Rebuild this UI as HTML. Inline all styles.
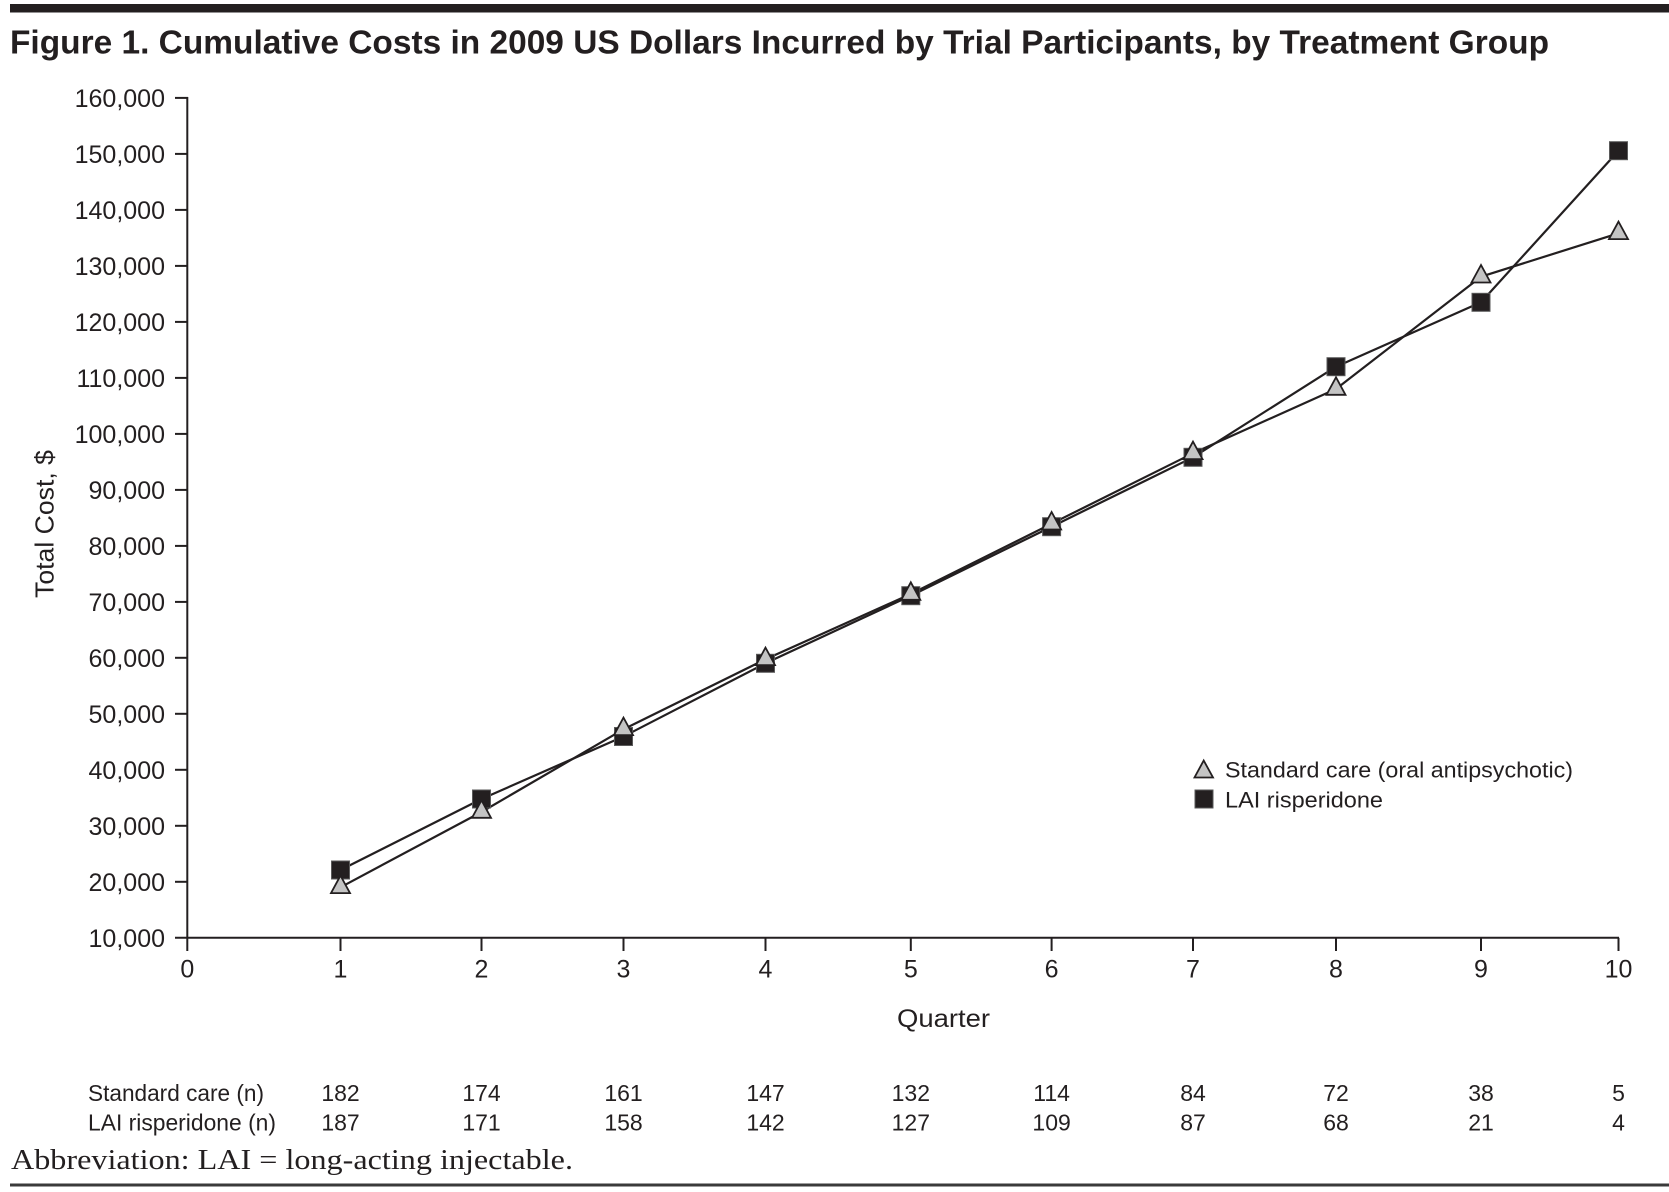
<!DOCTYPE html>
<html><head><meta charset="utf-8"><style>
html,body{margin:0;padding:0;background:#fff;}
svg{display:block;}
text{fill:#231f20;font-family:"Liberation Sans",sans-serif;}
</style></head><body>
<svg width="1669" height="1192" viewBox="0 0 1669 1192" xmlns="http://www.w3.org/2000/svg">
<rect x="0" y="0" width="1669" height="1192" fill="#fff"/>
<!-- top bar -->
<rect x="10" y="4" width="1659" height="8.5" fill="#231f20"/>
<!-- title -->
<text x="10" y="53.3" font-size="33" font-weight="bold" textLength="1539" lengthAdjust="spacingAndGlyphs">Figure 1. Cumulative Costs in 2009 US Dollars Incurred by Trial Participants, by Treatment Group</text>

<!-- axes -->
<g stroke="#231f20" stroke-width="2" fill="none">
<line x1="187.3" y1="97" x2="187.3" y2="951"/>
<line x1="175" y1="937.8" x2="1619" y2="937.8"/>
<!-- y ticks -->
<line x1="175" y1="97.9" x2="188" y2="97.9"/>
<line x1="175" y1="153.9" x2="187" y2="153.9"/>
<line x1="175" y1="209.9" x2="187" y2="209.9"/>
<line x1="175" y1="265.9" x2="187" y2="265.9"/>
<line x1="175" y1="321.9" x2="187" y2="321.9"/>
<line x1="175" y1="377.9" x2="187" y2="377.9"/>
<line x1="175" y1="433.9" x2="187" y2="433.9"/>
<line x1="175" y1="489.9" x2="187" y2="489.9"/>
<line x1="175" y1="545.9" x2="187" y2="545.9"/>
<line x1="175" y1="601.9" x2="187" y2="601.9"/>
<line x1="175" y1="657.8" x2="187" y2="657.8"/>
<line x1="175" y1="713.8" x2="187" y2="713.8"/>
<line x1="175" y1="769.8" x2="187" y2="769.8"/>
<line x1="175" y1="825.8" x2="187" y2="825.8"/>
<line x1="175" y1="881.8" x2="187" y2="881.8"/>
<!-- x ticks -->
<line x1="340.5" y1="937.8" x2="340.5" y2="951"/>
<line x1="481.5" y1="937.8" x2="481.5" y2="951"/>
<line x1="623.5" y1="937.8" x2="623.5" y2="951"/>
<line x1="765.5" y1="937.8" x2="765.5" y2="951"/>
<line x1="910.8" y1="937.8" x2="910.8" y2="951"/>
<line x1="1051.6" y1="937.8" x2="1051.6" y2="951"/>
<line x1="1193" y1="937.8" x2="1193" y2="951"/>
<line x1="1336" y1="937.8" x2="1336" y2="951"/>
<line x1="1481" y1="937.8" x2="1481" y2="951"/>
<line x1="1618.5" y1="937.8" x2="1618.5" y2="951"/>
</g>

<!-- y tick labels -->
<g font-size="25" text-anchor="end">
<text x="165" y="106.9">160,000</text>
<text x="165" y="162.9">150,000</text>
<text x="165" y="218.9">140,000</text>
<text x="165" y="274.9">130,000</text>
<text x="165" y="330.9">120,000</text>
<text x="165" y="386.9">110,000</text>
<text x="165" y="442.9">100,000</text>
<text x="165" y="498.9">90,000</text>
<text x="165" y="554.9">80,000</text>
<text x="165" y="610.9">70,000</text>
<text x="165" y="666.8">60,000</text>
<text x="165" y="722.8">50,000</text>
<text x="165" y="778.8">40,000</text>
<text x="165" y="834.8">30,000</text>
<text x="165" y="890.8">20,000</text>
<text x="165" y="946.8">10,000</text>
</g>

<!-- x tick labels -->
<g font-size="25" text-anchor="middle">
<text x="187.3" y="977.5">0</text>
<text x="340.5" y="977.5">1</text>
<text x="481.5" y="977.5">2</text>
<text x="623.5" y="977.5">3</text>
<text x="765.5" y="977.5">4</text>
<text x="910.8" y="977.5">5</text>
<text x="1051.6" y="977.5">6</text>
<text x="1193" y="977.5">7</text>
<text x="1336" y="977.5">8</text>
<text x="1481" y="977.5">9</text>
<text x="1618.5" y="977.5">10</text>
</g>

<!-- axis titles -->
<text x="897" y="1027" font-size="25" textLength="93" lengthAdjust="spacingAndGlyphs">Quarter</text>
<text transform="translate(53.3,524) rotate(-90)" font-size="26" text-anchor="middle" textLength="148" lengthAdjust="spacingAndGlyphs">Total Cost, $</text>

<!-- series lines -->
<g stroke="#231f20" stroke-width="2.2" fill="none" stroke-linejoin="round">
<polyline points="340.5,870 481.5,799 623.5,736.5 765.5,663.3 910.8,595.7 1051.6,526.7 1193,457.3 1336,366.7 1481,302.3 1618.5,150.7"/>
<polyline points="340.5,887.3 481.5,812 623.5,729.3 765.5,659.3 910.8,594 1051.6,523.7 1193,453.3 1336,389 1481,276.7 1618.5,233.3"/>
</g>

<!-- squares -->
<g fill="#231f20" stroke="#5a5a5a" stroke-width="1">
<rect x="331.5" y="861" width="18" height="18"/>
<rect x="472.5" y="790" width="18" height="18"/>
<rect x="614.5" y="727.5" width="18" height="18"/>
<rect x="756.5" y="654.3" width="18" height="18"/>
<rect x="901.8" y="586.7" width="18" height="18"/>
<rect x="1042.6" y="517.7" width="18" height="18"/>
<rect x="1184" y="448.3" width="18" height="18"/>
<rect x="1327" y="357.7" width="18" height="18"/>
<rect x="1472" y="293.3" width="18" height="18"/>
<rect x="1609.5" y="141.7" width="18" height="18"/>
</g>

<!-- triangles (centroid at data point) -->
<g fill="#c4c4c4" stroke="#231f20" stroke-width="1.8" stroke-linejoin="miter">
<polygon points="340.5,875.6 331,893.1 350,893.1"/>
<polygon points="481.5,800.3 472,817.8 491,817.8"/>
<polygon points="623.5,717.6 614,735.1 633,735.1"/>
<polygon points="765.5,647.6 756,665.1 775,665.1"/>
<polygon points="910.8,582.3 901.3,599.8 920.3,599.8"/>
<polygon points="1051.6,512 1042.1,529.5 1061.1,529.5"/>
<polygon points="1193,441.6 1183.5,459.1 1202.5,459.1"/>
<polygon points="1336,377.3 1326.5,394.8 1345.5,394.8"/>
<polygon points="1481,265 1471.5,282.5 1490.5,282.5"/>
<polygon points="1618.5,221.6 1609,239.1 1628,239.1"/>
</g>

<!-- legend -->
<polygon points="1203.7,760.5 1194.5,777.5 1213,777.5" fill="#c4c4c4" stroke="#231f20" stroke-width="1.8"/>
<rect x="1195" y="790" width="18" height="18" fill="#231f20" stroke="#5a5a5a" stroke-width="1"/>
<text x="1225" y="777.5" font-size="22" textLength="348" lengthAdjust="spacingAndGlyphs">Standard care (oral antipsychotic)</text>
<text x="1225" y="807.5" font-size="22" textLength="158" lengthAdjust="spacingAndGlyphs">LAI risperidone</text>

<!-- n table -->
<g font-size="23">
<text x="88" y="1101" textLength="176" lengthAdjust="spacingAndGlyphs">Standard care (n)</text>
<text x="88" y="1130.5" textLength="188" lengthAdjust="spacingAndGlyphs">LAI risperidone (n)</text>
</g>
<g font-size="23" text-anchor="middle">
<text x="340.5" y="1101">182</text>
<text x="481.5" y="1101">174</text>
<text x="623.5" y="1101">161</text>
<text x="765.5" y="1101">147</text>
<text x="910.8" y="1101">132</text>
<text x="1051.6" y="1101">114</text>
<text x="1193" y="1101">84</text>
<text x="1336" y="1101">72</text>
<text x="1481" y="1101">38</text>
<text x="1618.5" y="1101">5</text>
<text x="340.5" y="1130.5">187</text>
<text x="481.5" y="1130.5">171</text>
<text x="623.5" y="1130.5">158</text>
<text x="765.5" y="1130.5">142</text>
<text x="910.8" y="1130.5">127</text>
<text x="1051.6" y="1130.5">109</text>
<text x="1193" y="1130.5">87</text>
<text x="1336" y="1130.5">68</text>
<text x="1481" y="1130.5">21</text>
<text x="1618.5" y="1130.5">4</text>
</g>

<!-- footnote -->
<text x="11" y="1169" font-size="28" style="font-family:'Liberation Serif',serif" textLength="562" lengthAdjust="spacingAndGlyphs">Abbreviation: LAI = long-acting injectable.</text>
<rect x="10" y="1183.5" width="1659" height="3" fill="#3a3a3a"/>
</svg>
</body></html>
